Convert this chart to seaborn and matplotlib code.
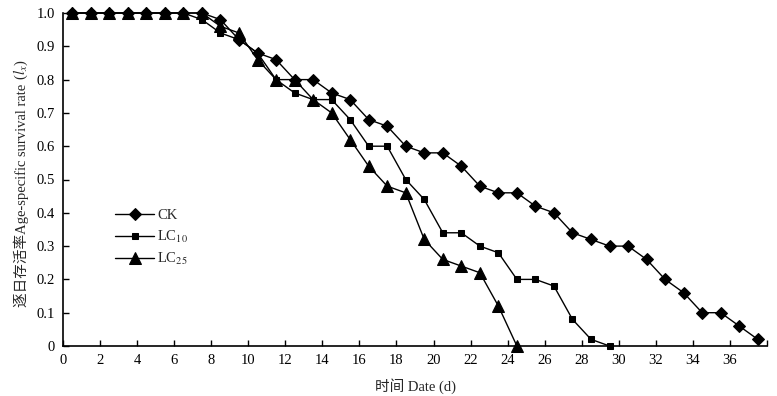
import numpy as np
import pandas as pd
import matplotlib
matplotlib.use("Agg")
import matplotlib.pyplot as plt
import seaborn as sns

# ---- data ----
ck_days = [0.5 + i for i in range(38)]
ck_vals = [1.0, 1.0, 1.0, 1.0, 1.0, 1.0, 1.0, 1.0, 0.98, 0.92, 0.88, 0.86, 0.80, 0.80,
           0.76, 0.74, 0.68, 0.66, 0.60, 0.58, 0.58, 0.54, 0.48, 0.46, 0.46, 0.42, 0.40,
           0.34, 0.32, 0.30, 0.30, 0.26, 0.20, 0.16, 0.10, 0.10, 0.06, 0.02]
lc10_days = [0.5 + i for i in range(30)]
lc10_vals = [1.0, 1.0, 1.0, 1.0, 1.0, 1.0, 1.0, 0.98, 0.94, 0.92, 0.88, 0.80, 0.76, 0.74,
             0.74, 0.68, 0.60, 0.60, 0.50, 0.44, 0.34, 0.34, 0.30, 0.28, 0.20, 0.20, 0.18,
             0.08, 0.02, 0.0]
lc25_days = [0.5 + i for i in range(25)]
lc25_vals = [1.0, 1.0, 1.0, 1.0, 1.0, 1.0, 1.0, 1.0, 0.96, 0.94, 0.86, 0.80, 0.80, 0.74,
             0.70, 0.62, 0.54, 0.48, 0.46, 0.32, 0.26, 0.24, 0.22, 0.12, 0.0]
series_labels = ["CK", "LC$_{10}$", "LC$_{25}$"]
x_ticks = list(range(0, 39, 2))
x_ticklabels = [str(t) for t in range(0, 37, 2)] + [""]
y_ticks = [0, 0.1, 0.2, 0.3, 0.4, 0.5, 0.6, 0.7, 0.8, 0.9, 1.0]
y_ticklabels = ["0", "0.1", "0.2", "0.3", "0.4", "0.5", "0.6", "0.7", "0.8", "0.9", "1.0"]
xlabel = "时间 Date (d)"
ylabel_text = "逐日存活率Age-specific survival rate"
ylabel_math = r" ($l_x$)"

sns.set_style("white")
plt.rcParams["font.family"] = ["Liberation Serif", "Noto Sans CJK SC", "DejaVu Sans"]
plt.rcParams["mathtext.fontset"] = "stix"

fig = plt.figure(figsize=(7.77, 3.96), dpi=100)
ax = fig.add_axes([63 / 777, 1 - 346 / 396, (767 - 63) / 777, (346 - 13) / 396])

markers = ["D", "s", "^"]
msizes = [6.5, 4.5, 8]
for days, vals, lab, mk, ms in zip([ck_days, lc10_days, lc25_days],
                                   [ck_vals, lc10_vals, lc25_vals],
                                   series_labels, markers, msizes):
    sns.lineplot(x=days, y=vals, ax=ax, color="black", linewidth=1.0,
                 marker=mk, markersize=ms, markeredgecolor="black",
                 markerfacecolor="black", label=lab, clip_on=False, zorder=3)

ax.set_xlim(0, 38)
ax.set_ylim(0, 1.0)
ax.set_xticks(x_ticks)
ax.set_xticklabels(x_ticklabels)
ax.set_yticks(y_ticks)
ax.set_yticklabels(y_ticklabels)
ax.tick_params(axis="both", direction="in", length=4, width=1, labelsize=10.5,
               colors="black", bottom=True, left=True)
ax.tick_params(axis="x", pad=6)
ax.tick_params(axis="y", pad=6)
for s in ["top", "right"]:
    ax.spines[s].set_visible(False)
for s in ["left", "bottom"]:
    ax.spines[s].set_color("black")
    ax.spines[s].set_linewidth(1.2)
ax.grid(False)

ax.set_xlabel(xlabel, fontsize=10.5, labelpad=8)

leg = ax.legend(loc="upper left", bbox_to_anchor=(0.055, 0.45), frameon=False,
                fontsize=10.5, handlelength=2.7, handletextpad=0.2, labelspacing=0.42)

# y label: plain text part (with CJK) + math part placed right after it
fig.canvas.draw()
renderer = fig.canvas.get_renderer()
t1 = fig.text(0, 0, ylabel_text, rotation=90, fontsize=10.5, ha="center", va="bottom")
t2 = fig.text(0, 0, ylabel_math, rotation=90, fontsize=10.5, ha="center", va="bottom")
b1 = t1.get_window_extent(renderer)
b2 = t2.get_window_extent(renderer)
total = b1.height + b2.height
cx = 21.0
cy_center = 396 - 183.0
y0 = cy_center - total / 2
t1.set_position((cx / 777, y0 / 396))
t2.set_position((cx / 777, (y0 + b1.height) / 396))

fig.savefig("out.png", dpi=100)
